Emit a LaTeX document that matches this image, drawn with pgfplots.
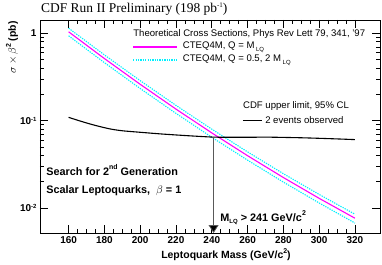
\documentclass[border=0pt]{standalone}
\usepackage{pgfplots}
\pgfplotsset{compat=1.18}
\usepackage{fontspec}
\setmainfont{Liberation Sans}
\newfontfamily\timesf{Liberation Serif}
\usetikzlibrary{arrows.meta}
\definecolor{lqcyan}{RGB}{0,240,255}
\definecolor{lqpink}{rgb}{1,0,1}

\pgfplotstableread{
x y
160 1.040
180 0.5136
200 0.2603
220 0.1354
240 0.07229
260 0.03963
280 0.02228
300 0.01287
320 0.00762
}\tabcentral

\pgfplotstableread{
x y
160 1.144
180 0.5655
200 0.2869
220 0.1494
240 0.07987
260 0.04383
280 0.02467
300 0.01427
320 0.00847
}\tabupper

\pgfplotstableread{
x y
160 0.936
180 0.4607
200 0.2330
220 0.1209
240 0.06441
260 0.03523
280 0.01976
300 0.01139
320 0.00671
}\tablower

\pgfplotstableread{
x y
160 0.109
165 0.101
170 0.094
175 0.088
183 0.0804
190 0.0765
200 0.0735
211 0.0705
220 0.0685
230 0.0665
241 0.0647
250 0.0645
260 0.0645
272 0.0646
280 0.0642
290 0.0636
300 0.0627
310 0.0617
320 0.0606
}\tabobserved

\begin{document}
\begin{tikzpicture}
\begin{axis}[
  scale only axis, width=340bp, height=213bp,
  ymode=log, xmin=144, xmax=334, ymin=0.00516, ymax=1.42,
  xtick={160,180,...,320}, minor x tick num=3,
  ytick={0.01,0.1,1},
  yticklabels={{10\raisebox{0.6ex}{\fontsize{6}{7}\selectfont -2}},{10\raisebox{0.6ex}{\fontsize{6}{7}\selectfont -1}},{1}},
  tick label style={font=\fontsize{10}{12}\selectfont\bfseries},
  /pgf/number format/assume math mode=true,
  /pgf/number format/1000 sep={},
  major tick length=8bp, minor tick length=4bp,
  axis line style={line width=0.7pt},
  every tick/.style={black, line width=0.6pt},
  clip=false,
]
\addplot[draw=lqcyan, line width=1.1pt, dash pattern=on 1.3pt off 1.1pt] table {\tabupper};
\addplot[draw=lqcyan, line width=1.1pt, dash pattern=on 1.3pt off 1.1pt] table {\tablower};
\addplot[draw=lqpink, line width=1.1pt] table {\tabcentral};
\addplot[black, line width=1.1pt, smooth] table {\tabobserved};
\addplot[gray!70!black, line width=0.8pt, -{Triangle[length=8bp,width=10bp,fill=black]}] coordinates {(241,0.0647) (241,0.00516)};
% legend sample for the central curve
\addplot[draw=lqpink, line width=1.4pt, forget plot] coordinates {(196.1,0.70) (220.6,0.70)};

% legend line samples
\path[draw=lqcyan, line width=1.1pt, dash pattern=on 1.3pt off 1.1pt] (axis description cs:0.274,0.812) -- (axis description cs:0.403,0.812);
\path[draw=black, line width=1.1pt] (axis description cs:0.597,0.53) -- (axis description cs:0.653,0.53);

% title
\node[anchor=south west, font=\timesf\fontsize{13.5}{15}\selectfont, inner sep=0pt] at (axis description cs:0.003,1.02) {CDF Run II Preliminary (198 pb\raisebox{0.9ex}{\fontsize{7}{8}\selectfont -1})};
% axis labels
\node[rotate=90, anchor=east, font=\fontsize{10.5}{12}\selectfont\bfseries, inner sep=0pt] at (axis description cs:-0.082,0.995) {$\sigma${\mdseries$\,\times\,$}$\beta$\raisebox{0.9ex}{\fontsize{7}{8}\selectfont 2} (pb)};
\node[anchor=east, font=\fontsize{10.5}{12}\selectfont\bfseries, inner sep=0pt] at (axis description cs:0.738,-0.103) {Leptoquark Mass (GeV/c\raisebox{0.9ex}{\fontsize{7}{8}\selectfont 2})};
% legend text
\node[anchor=west, font=\fontsize{9.6}{11}\selectfont, inner sep=0pt] at (axis description cs:0.274,0.934) {Theoretical Cross Sections, Phys Rev Lett 79, 341, '97};
\node[anchor=west, font=\fontsize{9.6}{11}\selectfont, inner sep=0pt] at (axis description cs:0.42,0.873) {CTEQ4M, Q = M\raisebox{-0.5ex}{\fontsize{6}{7}\selectfont\ LQ}};
\node[anchor=west, font=\fontsize{9.6}{11}\selectfont, inner sep=0pt] at (axis description cs:0.42,0.812) {CTEQ4M, Q = 0.5, 2 M\raisebox{-0.5ex}{\fontsize{6}{7}\selectfont\ LQ}};
\node[anchor=west, font=\fontsize{9.6}{11}\selectfont, inner sep=0pt] at (axis description cs:0.597,0.596) {CDF upper limit, 95\% CL};
\node[anchor=west, font=\fontsize{9.6}{11}\selectfont, inner sep=0pt] at (axis description cs:0.662,0.53) {2 events observed};
% annotations
\node[anchor=west, font=\fontsize{10.9}{12}\selectfont\bfseries, inner sep=0pt] at (axis description cs:0.018,0.296) {Search for 2\raisebox{0.9ex}{\fontsize{7}{8}\selectfont nd} Generation};
\node[anchor=west, font=\fontsize{10.9}{12}\selectfont\bfseries, inner sep=0pt] at (axis description cs:0.018,0.197) {Scalar Leptoquarks,\ \ {\mdseries$\beta$} = 1};
\node[anchor=west, font=\fontsize{10.9}{12}\selectfont\bfseries, inner sep=0pt] at (axis description cs:0.53,0.07) {M\raisebox{-0.5ex}{\fontsize{6}{7}\selectfont LQ} > 241 GeV/c\raisebox{0.9ex}{\fontsize{7}{8}\selectfont 2}};
\end{axis}
\pgfresetboundingbox
\path[use as bounding box] ([xshift=-40bp,yshift=-32bp]current axis.south west) rectangle ([xshift=2bp,yshift=20bp]current axis.north east);
\end{tikzpicture}
\end{document}
